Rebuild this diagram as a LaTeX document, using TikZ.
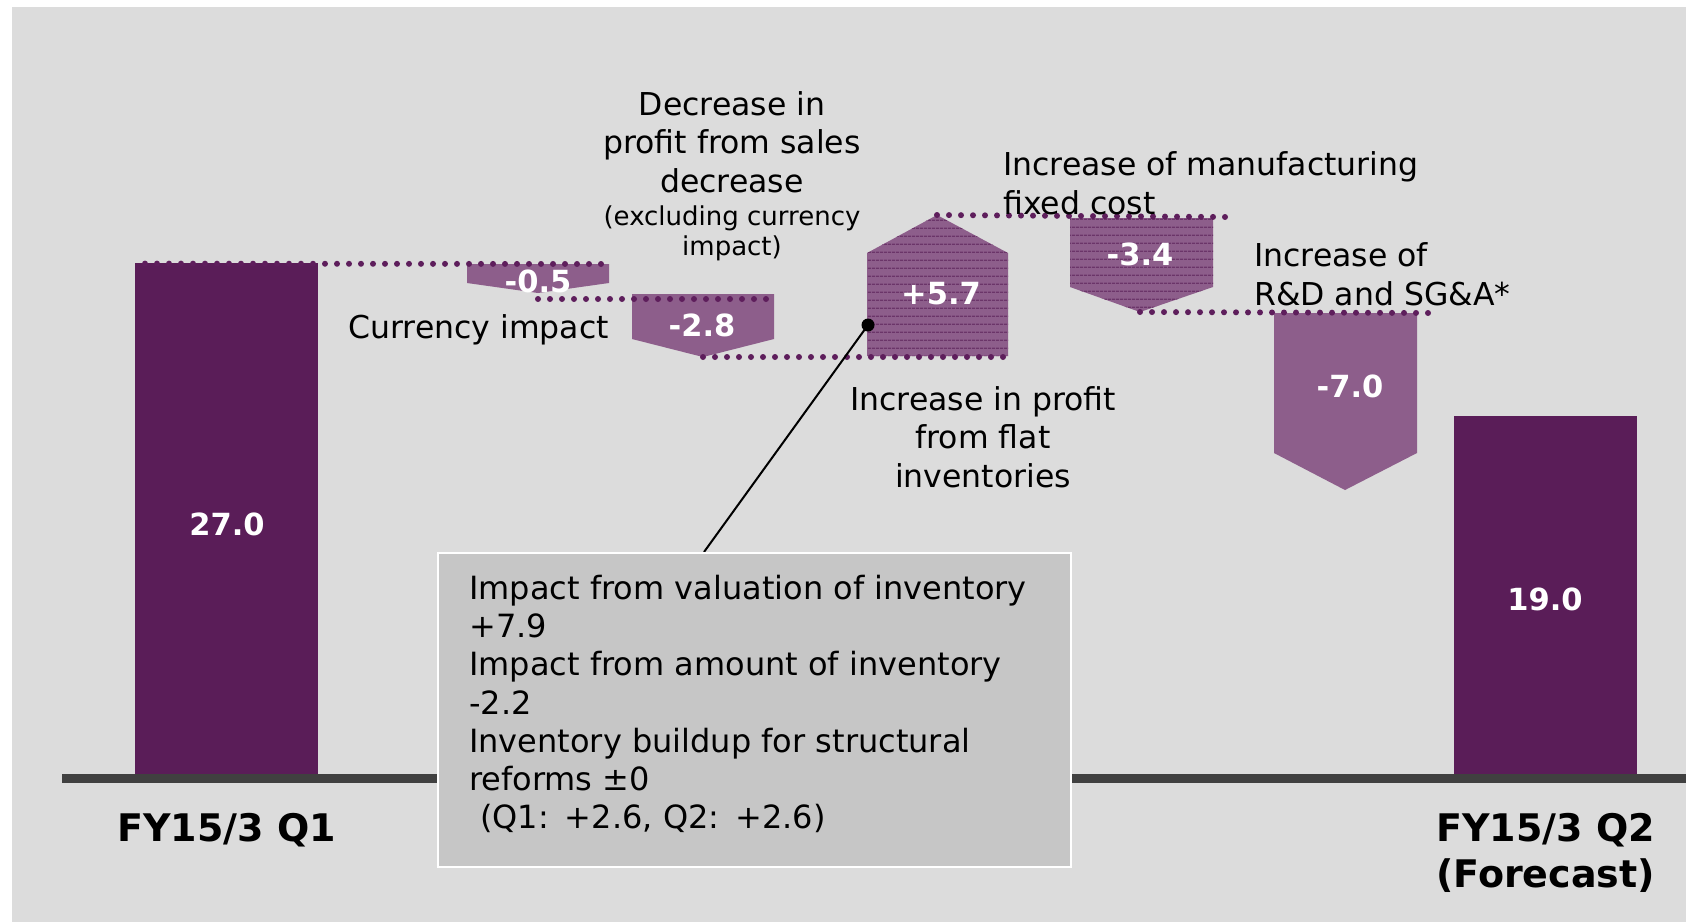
\documentclass[tikz,border=0pt]{standalone}
\usepackage{fontspec}
\setmainfont{DejaVu Sans}
\usepackage{tikz}
\usetikzlibrary{positioning, patterns}
\definecolor{bgray}{HTML}{DCDCDC}
\definecolor{barpurple}{HTML}{5A1D58}
\definecolor{stepfill}{HTML}{8D5E8B}
\definecolor{stripe}{HTML}{6B3569}
\definecolor{dotpurple}{HTML}{5E1E5C}
\definecolor{notegray}{HTML}{C6C6C6}
\definecolor{axisgray}{HTML}{404040}
\pgfdeclarepatternformonly{hstripes}{\pgfpointorigin}{\pgfpoint{4pt}{8.2pt}}{\pgfpoint{4pt}{8.2pt}}{\pgfpathrectangle{\pgfpointorigin}{\pgfpoint{4pt}{1.4pt}}\pgfusepath{fill}}
\tikzstyle{bar}=[fill=barpurple, inner sep=0, anchor=south west]
\tikzstyle{delta}=[fill=stepfill]
\tikzstyle{striped}=[preaction={fill=stepfill}, pattern=hstripes, pattern color=stripe]
\tikzstyle{val}=[text=white, inner sep=0, font=\bfseries\fontsize{30.5}{36}\selectfont]
\tikzstyle{lbl}=[inner sep=0, align=center, font=\fontsize{31.5}{38.5}\selectfont]
\tikzstyle{small}=[inner sep=0, align=center, font=\fontsize{26}{30}\selectfont]
\tikzstyle{cat}=[inner sep=0, align=center, font=\bfseries\fontsize{38}{46}\selectfont]
\tikzstyle{level}=[draw=dotpurple, line width=6, line cap=round, dash pattern=on 0pt off 12pt]

\begin{document}
\begin{tikzpicture}[x=1pt, y=-1pt, node distance=39pt]
  \useasboundingbox (0,0) rectangle (1686,922);
  \fill[white] (0,0) rectangle (1686,922);
  \fill[bgray] (12,7) rectangle (1686,922);
  \coordinate (ax0) at (62,778.5);
  \coordinate (ax1) at (1686,778.5);
  \draw[axisgray, line width=9] (ax0) -- (ax1);
  % start and end bars
  \node[bar, minimum width=183, minimum height=511] (q1) at (135,774) {};
  \node[bar, minimum width=183, minimum height=358] (q2) at (1454,774) {};
  \node[val] (v27) at (227,524) {27.0};
  \node[val] (v19) at (1545,599) {19.0};
  \node[cat, below=of q1] (fy1) {FY15/3 Q1};
  \node[cat, below=of q2] (fy2) {FY15/3 Q2\\(Forecast)};
  % steps
  \path[delta] (467,264) -- (609,264) coordinate (c05) -- (609,283) -- (538,293) -- (467,283) -- cycle;
  \path[delta] (632,294) -- (774,294) -- (774,339) -- (703,357) coordinate (c28) -- (632,339) -- cycle;
  \path[striped] (867,356) -- (1008,356) -- (1008,253) -- (937,215) coordinate (c57) -- (867,253) -- cycle;
  \path[striped] (1070,218) -- (1213,218) -- (1213,287) -- (1140,312) coordinate (c34) -- (1070,287) -- cycle;
  \path[delta] (1274,313) -- (1417,313) -- (1417,453) -- (1345,490) -- (1274,453) -- cycle;
  % levels
  \coordinate (l05) at (538,299);
  \coordinate (l28) at (774,299);
  \coordinate (l57) at (1005,357);
  \coordinate (l34) at (1226,217);
  \coordinate (l70) at (1430,313);
  \draw[level] ([shift={(10,1)}]q1.north west) -- (c05);
  \draw[level] (l05) -- (l28);
  \draw[level] (c28) -- (l57);
  \draw[level] (c57) -- (l34);
  \draw[level] (c34) -- (l70);
  \node[val] (v05) at (538,281) {-0.5};
  \node[val] (v28) at (702,325) {-2.8};
  \node[val] (v57) at (941,294) {+5.7};
  \node[val] (v34) at (1140,254) {-3.4};
  \node[val] (v70) at (1350,386) {-7.0};
  % labels
  \node[lbl] (dec) at (732,142) {Decrease in\\profit from sales\\decrease};
  \node[small, below=13pt of dec] (decx) {(excluding currency\\impact)};
  \node[lbl, anchor=east] (cur) at (609,330) {Currency impact};
  \node[lbl] (flat) at (983,437) {Increase in profit\\from flat\\inventories};
  \node[lbl, anchor=west, align=left] (mfc) at (1003,183) {Increase of manufacturing\\fixed cost};
  \node[lbl, anchor=west, align=left] (rnd) at (1254,274) {Increase of\\R\&D and SG\&A*};
  % inventory note
  \node[circle, fill=black, inner sep=0, minimum size=13] (pin) at (868,325) {};
  \coordinate (hook) at (704,552);
  \draw[line width=2] (pin.center) -- (hook);
  \node[fill=notegray, draw=white, line width=2, minimum width=633, minimum height=314, anchor=north west, inner sep=0] (note) at (437,552) {};
  \node[anchor=west, inner sep=0, align=left, font=\fontsize{32}{38.3}\selectfont] (notetxt) at (469,704) {Impact from valuation of inventory\\+7.9\\Impact from amount of inventory\\-2.2\\Inventory buildup for structural\\reforms ±0\\\hspace*{11pt}(Q1:\hspace{16pt}+2.6, Q2:\hspace{16pt}+2.6)};
\end{tikzpicture}
\end{document}
